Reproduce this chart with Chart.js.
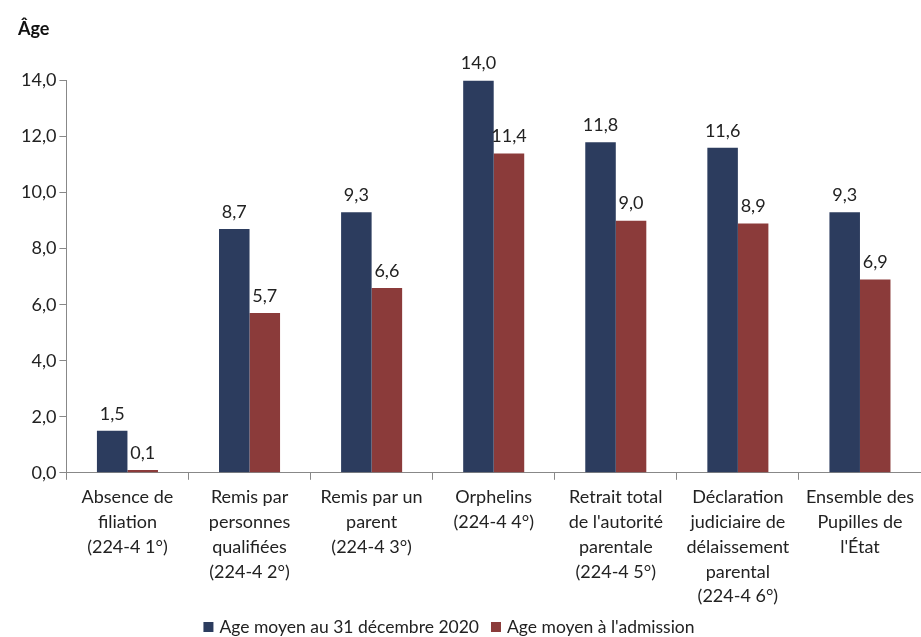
<!DOCTYPE html>
<html lang="fr">
<head>
    <meta charset="UTF-8">
    <title>Âge moyen des pupilles</title>
    <script src="https://cdn.jsdelivr.net/npm/chart.js"></script>
    <style>
        body{
            margin: 0;
            background-color: white;
        }
        .box{
            width: 921px;
            height: 637px;
        }
    </style>
</head>
<body>
<div class="box"><canvas id="miCanvas"></canvas></div>
<script>
const categories = [
    ["Absence de", "filiation", "(224-4 1°)"],
    ["Remis par", "personnes", "qualifiées", "(224-4 2°)"],
    ["Remis par un", "parent", "(224-4 3°)"],
    ["Orphelins", "(224-4 4°)"],
    ["Retrait total", "de l'autorité", "parentale", "(224-4 5°)"],
    ["Déclaration", "judiciaire de", "délaissement", "parental", "(224-4 6°)"],
    ["Ensemble des", "Pupilles de", "l'État"]
];
const ageDecembre = [1.5, 8.7, 9.3, 14.0, 11.8, 11.6, 9.3];
const ageAdmission = [0.1, 5.7, 6.6, 11.4, 9.0, 8.9, 6.9];
const seriesNames = ["Age moyen au 31 décembre 2020", "Age moyen à l'admission"];

const fmt = (v) => v.toFixed(1).replace('.', ',');
const fontFam = "Lato, 'Open Sans', sans-serif";

// valeurs au-dessus des barres
const barLabels = {
    id: 'barLabels',
    afterDatasetsDraw(chart){
        const ctx = chart.ctx;
        ctx.save();
        ctx.font = "18px " + fontFam;
        ctx.fillStyle = '#222';
        ctx.textAlign = 'center';
        ctx.textBaseline = 'bottom';
        chart.data.datasets.forEach((ds, i) => {
            chart.getDatasetMeta(i).data.forEach((bar, j) => {
                ctx.fillText(fmt(ds.data[j]), bar.x, bar.y - 8);
            });
        });
        ctx.restore();
    }
};

// légende en bas, dessinée à la main pour la caler
const bottomLegend = {
    id: 'bottomLegend',
    afterDraw(chart){
        const ctx = chart.ctx;
        ctx.save();
        ctx.font = "17.5px " + fontFam;
        ctx.textBaseline = 'middle';
        const y = 627, box = 10, gap = 6, between = 12;
        let total = 0;
        chart.data.datasets.forEach((ds) => {
            total += box + gap + ctx.measureText(ds.label).width;
        });
        total += between * (chart.data.datasets.length - 1);
        let x = 449 - total / 2;
        chart.data.datasets.forEach((ds) => {
            ctx.fillStyle = ds.backgroundColor;
            ctx.fillRect(x, y - box / 2, box, box);
            x += box + gap;
            ctx.fillStyle = '#222';
            ctx.fillText(ds.label, x, y);
            x += ctx.measureText(ds.label).width + between;
        });
        ctx.restore();
    }
};

new Chart(document.getElementById('miCanvas'), {
    type: 'bar',
    data: {
        labels: categories,
        datasets: [
            {label: seriesNames[0], data: ageDecembre, backgroundColor: '#2c3c5e'},
            {label: seriesNames[1], data: ageAdmission, backgroundColor: '#8b3b3a'}
        ]
    },
    options: {
        responsive: true,
        maintainAspectRatio: false,
        animation: false,
        categoryPercentage: 0.5,
        barPercentage: 1.0,
        layout: {padding: {left: 18, right: 0, top: 0, bottom: 23}},
        plugins: {
            title: {
                display: true,
                text: 'Âge',
                align: 'start',
                color: '#111',
                font: {family: fontFam, size: 18, weight: 'bold'},
                padding: {top: 18, bottom: 41}
            },
            legend: {display: false},
            tooltip: {enabled: false}
        },
        scales: {
            x: {
                grid: {display: true, drawOnChartArea: false, tickLength: 7, color: '#888'},
                border: {color: '#888'},
                ticks: {
                    color: '#222',
                    padding: 5,
                    font: {family: fontFam, size: 18, lineHeight: 1.38},
                    maxRotation: 0,
                    autoSkip: false
                }
            },
            y: {
                min: 0,
                max: 14,
                grid: {display: true, drawOnChartArea: false, tickLength: 7, color: '#888'},
                border: {color: '#888'},
                ticks: {
                    stepSize: 2,
                    color: '#222',
                    font: {family: fontFam, size: 18},
                    callback: (v) => fmt(v)
                }
            }
        }
    },
    plugins: [barLabels, bottomLegend]
});
</script>
</body>
</html>
